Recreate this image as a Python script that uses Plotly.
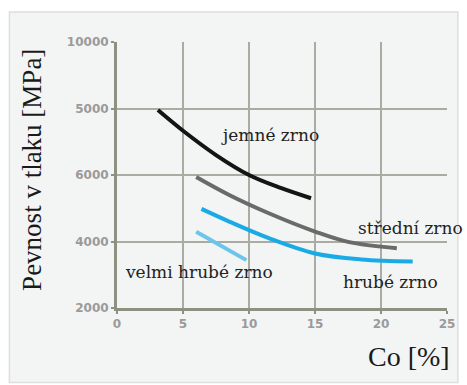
import plotly.graph_objects as go

# Data
fine_x = [3.1, 5.1, 7.5, 10.0, 12.4, 14.7]
fine_y = [7955, 7300, 6600, 6000, 5610, 5300]
medium_x = [6.0, 8.5, 11.5, 15.0, 17.5, 21.2]
medium_y = [5940, 5400, 4850, 4300, 3990, 3800]
coarse_x = [6.4, 8.5, 11.5, 15.0, 18.5, 22.4]
coarse_y = [4980, 4600, 4100, 3640, 3460, 3400]
vcoarse_x = [6.0, 9.8]
vcoarse_y = [4290, 3440]

x_ticks = [0, 5, 10, 15, 20, 25]
y_tickvals = [2000, 4000, 6000, 8000, 10000]
y_ticktext = ["2000", "4000", "6000", "5000", "10000"]

labels = ["jemné zrno", "střední zrno", "hrubé zrno", "velmi hrubé zrno"]
label_x = [11.6, 22.2, 20.7, 6.2]
label_y = [7200, 4400, 2780, 3080]

fig = go.Figure()
series = [
    (fine_x, fine_y, "#141414"),
    (medium_x, medium_y, "#6a6a6a"),
    (coarse_x, coarse_y, "#1aabe6"),
    (vcoarse_x, vcoarse_y, "#6cc6ec"),
]
for xs, ys, c in series:
    fig.add_trace(go.Scatter(x=xs, y=ys, mode="lines",
                             line=dict(color=c, width=4, shape="spline", smoothing=1.0),
                             showlegend=False, hoverinfo="skip"))

for t, lx, ly in zip(labels, label_x, label_y):
    fig.add_annotation(x=lx, y=ly, text=t, showarrow=False, xref="x", yref="y",
                       xanchor="center", yanchor="middle",
                       font=dict(family="DejaVu Serif", size=17, color="#222222"))

# axis titles
fig.add_annotation(x=-0.26, y=0.52, xref="paper", yref="paper", text="Pevnost v tlaku [MPa]",
                   textangle=-90, showarrow=False, xanchor="center", yanchor="middle",
                   font=dict(family="Liberation Serif", size=27, color="#1a1a1a"))
fig.add_annotation(x=0.886, y=-0.184, xref="paper", yref="paper", text="Co [%]",
                   showarrow=False, xanchor="center", yanchor="middle",
                   font=dict(family="Liberation Serif", size=28, color="#1a1a1a"))

# outer frame
fig.add_shape(type="rect", xref="paper", yref="paper", x0=-0.326, x1=1.033, y0=-0.28, y1=1.113,
              line=dict(color="#dedede", width=1.5), fillcolor="#f3f4f4", layer="below")

axis_common = dict(showgrid=True, gridcolor="#aaaba2", gridwidth=1.5,
                   showline=True, linecolor="#8e9082", linewidth=3,
                   ticks="outside", ticklen=3, tickcolor="#8e9082", tickwidth=2,
                   tickfont=dict(family="DejaVu Sans", size=12, color="#9a9a9a", weight="bold"),
                   zeroline=False, fixedrange=True, mirror=False)

fig.update_layout(
    width=467, height=385, autosize=False,
    margin=dict(l=117, r=16, t=42, b=77),
    paper_bgcolor="#ffffff", plot_bgcolor="#f3f4f4",
    xaxis=dict(range=[0, 25], tickvals=x_ticks, **axis_common),
    yaxis=dict(range=[2000, 10000], tickvals=y_tickvals, ticktext=y_ticktext, **axis_common),
)
fig.write_html("out.html", config={"displayModeBar": False},
               post_script="document.body.style.margin='0';")
